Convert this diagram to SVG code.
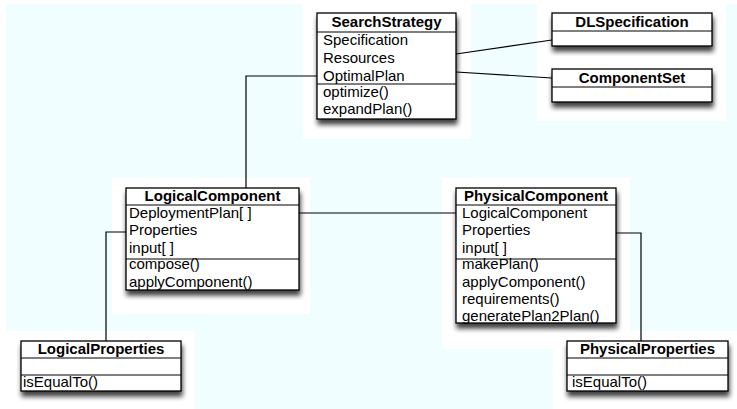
<svg xmlns="http://www.w3.org/2000/svg" width="737" height="409" viewBox="0 0 737 409">
  <defs>
    <filter id="shadow" x="-10%" y="-10%" width="125%" height="140%">
      <feGaussianBlur in="SourceAlpha" stdDeviation="2.5"/>
      <feOffset dx="1" dy="5" result="blur"/>
      <feComponentTransfer><feFuncA type="linear" slope="0.75"/></feComponentTransfer>
      <feMerge><feMergeNode/><feMergeNode in="SourceGraphic"/></feMerge>
    </filter>
  </defs>
  <style>
    .box { fill: #ffffff; stroke: #000000; stroke-width: 1.3; }
    .sep { stroke: #000000; stroke-width: 1.2; fill: none; }
    .title { font-family: "Liberation Sans", Arial, sans-serif; font-size: 15px; font-weight: bold; text-anchor: middle; fill: #000; }
    .item { font-family: "Liberation Sans", Arial, sans-serif; font-size: 15px; fill: #000; }
    .link { stroke: #000000; stroke-width: 1.2; fill: none; }
    .bg { fill: #f0feff; }
    .patch { fill: #ffffff; }
  </style>

  <!-- page background -->
  <rect width="737" height="409" fill="#ffffff"/>
  <rect class="bg" x="6" y="4" width="731" height="405"/>
  <rect class="patch" x="303" y="0" width="168" height="139"/>
  <rect class="patch" x="537" y="0" width="189" height="121"/>
  <rect class="patch" x="112" y="178" width="198" height="136"/>
  <rect class="patch" x="442" y="178" width="188" height="171"/>
  <rect class="patch" x="0" y="331" width="195" height="78"/>
  <rect class="patch" x="553" y="331" width="184" height="78"/>

  <!-- associations -->
  <g id="connectors">
    <line class="link" x1="456" y1="54" x2="552" y2="40"/>
    <line class="link" x1="456" y1="72" x2="552" y2="78"/>
    <polyline class="link" points="317,76 246,76 246,188"/>
    <line class="link" x1="299" y1="213" x2="456" y2="213"/>
    <polyline class="link" points="126,232 106,232 106,341"/>
    <polyline class="link" points="616,233 641,233 641,341"/>
  </g>

  <g id="SearchStrategy">
    <rect class="box" x="317" y="13" width="139" height="106" filter="url(#shadow)"/>
    <line class="sep" x1="317" y1="32" x2="456" y2="32"/>
    <line class="sep" x1="317" y1="84" x2="456" y2="84"/>
    <text class="title" x="386.5" y="27">SearchStrategy</text>
    <text class="item" x="323" y="45">Specification</text>
    <text class="item" x="323" y="63">Resources</text>
    <text class="item" x="323" y="81">OptimalPlan</text>
    <text class="item" x="323" y="97">optimize()</text>
    <text class="item" x="323" y="114">expandPlan()</text>
  </g>

  <g id="DLSpecification">
    <rect class="box" x="552" y="13" width="160" height="33" filter="url(#shadow)"/>
    <line class="sep" x1="552" y1="31" x2="712" y2="31"/>
    <text class="title" x="632" y="26.5">DLSpecification</text>
  </g>

  <g id="ComponentSet">
    <rect class="box" x="552" y="69" width="160" height="33" filter="url(#shadow)"/>
    <line class="sep" x1="552" y1="87" x2="712" y2="87"/>
    <text class="title" x="632" y="82.5">ComponentSet</text>
  </g>

  <g id="LogicalComponent">
    <rect class="box" x="126" y="188" width="173" height="102" filter="url(#shadow)"/>
    <line class="sep" x1="126" y1="205" x2="299" y2="205"/>
    <line class="sep" x1="126" y1="259" x2="299" y2="259"/>
    <text class="title" x="212.5" y="200.5">LogicalComponent</text>
    <text class="item" x="129" y="217.5">DeploymentPlan[ ]</text>
    <text class="item" x="129" y="235">Properties</text>
    <text class="item" x="129" y="252.5">input[ ]</text>
    <text class="item" x="129" y="269">compose()</text>
    <text class="item" x="129" y="286.5">applyComponent()</text>
  </g>

  <g id="PhysicalComponent">
    <rect class="box" x="456" y="188" width="160" height="135" filter="url(#shadow)"/>
    <line class="sep" x1="456" y1="205" x2="616" y2="205"/>
    <line class="sep" x1="456" y1="259" x2="616" y2="259"/>
    <text class="title" x="536" y="200.5">PhysicalComponent</text>
    <text class="item" x="462" y="217.5">LogicalComponent</text>
    <text class="item" x="462" y="235">Properties</text>
    <text class="item" x="462" y="252.5">input[ ]</text>
    <text class="item" x="462" y="269">makePlan()</text>
    <text class="item" x="462" y="286.5">applyComponent()</text>
    <text class="item" x="462" y="304">requirements()</text>
    <text class="item" x="462" y="320.5">generatePlan2Plan()</text>
  </g>

  <g id="LogicalProperties">
    <rect class="box" x="21" y="341" width="160" height="50" filter="url(#shadow)"/>
    <line class="sep" x1="21" y1="358" x2="181" y2="358"/>
    <line class="sep" x1="21" y1="375" x2="181" y2="375"/>
    <text class="title" x="101" y="353.5">LogicalProperties</text>
    <text class="item" x="23" y="387">isEqualTo()</text>
  </g>

  <g id="PhysicalProperties">
    <rect class="box" x="567" y="341" width="161" height="50" filter="url(#shadow)"/>
    <line class="sep" x1="567" y1="358" x2="728" y2="358"/>
    <line class="sep" x1="567" y1="375" x2="728" y2="375"/>
    <text class="title" x="647.5" y="353.5">PhysicalProperties</text>
    <text class="item" x="572" y="387">isEqualTo()</text>
  </g>
</svg>
